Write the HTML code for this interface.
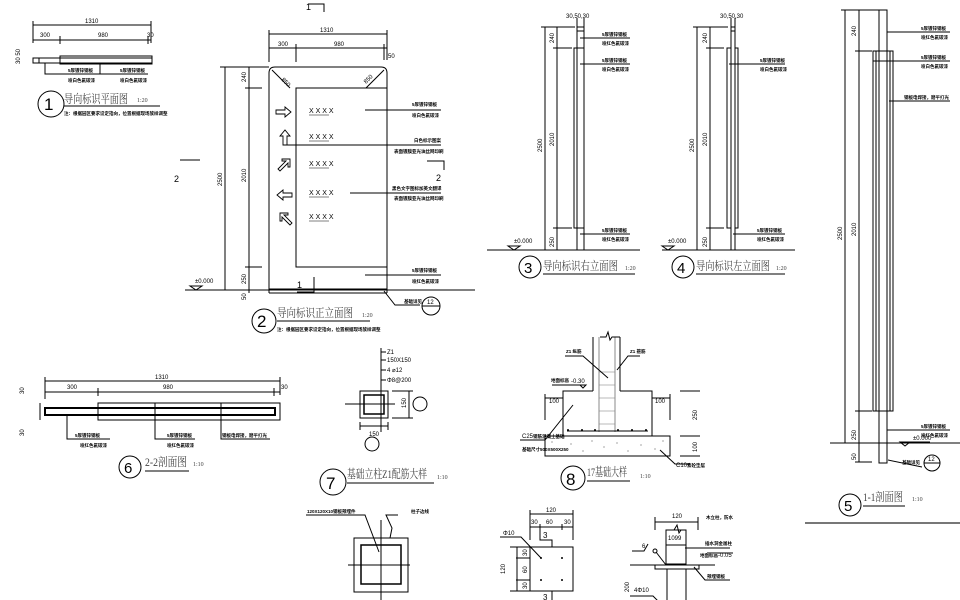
<!DOCTYPE html>
<html><head><meta charset="utf-8"><style>
html,body{margin:0;padding:0;background:#fff;}
svg{display:block;}
text{font-family:"Liberation Sans","Noto Sans CJK SC",sans-serif;fill:#000;}
.t{font-size:6px;}
.s{font-size:4.5px;font-weight:bold;}
.ti{font-size:12px;font-family:"Liberation Serif","Noto Serif CJK SC",serif;fill:#444;}
.sc{font-size:6px;font-family:"Liberation Serif",serif;fill:#444;}
</style></head><body>
<svg width="960" height="600" viewBox="0 0 960 600" xmlns="http://www.w3.org/2000/svg" stroke="#000" stroke-width="1" fill="none">
<!-- ============ Drawing 1 plan ============ -->
<g>
<line x1="33" y1="25" x2="151" y2="25"/><line x1="33" y1="21" x2="33" y2="43"/><line x1="151" y1="21" x2="151" y2="43"/>
<line x1="33" y1="40" x2="151" y2="40"/><line x1="60" y1="36" x2="60" y2="44"/><line x1="148" y1="36" x2="148" y2="44"/>
<text class="t" x="85" y="23" stroke="none">1310</text>
<text class="t" x="40" y="37" stroke="none">300</text><text class="t" x="98" y="37" stroke="none">980</text><text class="t" x="147" y="37" stroke="none">30</text>
<rect x="33" y="58" width="119" height="5"/><rect x="60" y="56" width="92" height="8"/><line x1="39" y1="58" x2="39" y2="63"/>
<text class="t" x="20" y="64" stroke="none" transform="rotate(-90 20 64)">30 50</text>
<polyline points="45,63 45,74 100,74"/><polyline points="100,64 100,74 148,74"/>
<text class="s" x="68" y="72" stroke="none">5厚镀锌钢板</text><text class="s" x="120" y="72" stroke="none">5厚镀锌钢板</text>
<text class="s" x="68" y="82" stroke="none">喷白色氟碳漆</text><text class="s" x="120" y="82" stroke="none">喷白色氟碳漆</text>
<circle cx="51" cy="104" r="13"/><text x="44" y="110" style="font-size:17px" stroke="none">1</text>
<text class="ti" x="64" y="103" stroke="none" textLength="64" lengthAdjust="spacingAndGlyphs">导向标识平面图</text><text class="sc" x="137" y="102" stroke="none">1:20</text>
<line x1="64" y1="106" x2="160" y2="106"/>
<text class="s" x="64" y="115" stroke="none">注：根据园区要求设定指向，位置根据现场放样调整</text>
</g>
<!-- ============ Drawing 2 front ============ -->
<g>
<polyline points="308,4 324,4 324,12"/><text x="306" y="10" style="font-size:9px" stroke="none">1</text>
<line x1="269" y1="34" x2="387" y2="34"/><line x1="269" y1="30" x2="269" y2="62"/><line x1="387" y1="30" x2="387" y2="60"/>
<line x1="269" y1="48" x2="387" y2="48"/><line x1="296" y1="44" x2="296" y2="62"/><line x1="384" y1="44" x2="384" y2="60"/>
<text class="t" x="320" y="32" stroke="none">1310</text><text class="t" x="278" y="46" stroke="none">300</text><text class="t" x="334" y="46" stroke="none">980</text><text class="t" x="388" y="58" stroke="none">50</text>
<path d="M269,293 L269,73 Q269,67 275,67 L381,67 Q387,67 387,73 L387,293"/>
<line x1="272" y1="70" x2="290" y2="88"/><line x1="384" y1="70" x2="366" y2="88"/>
<text class="t" x="281" y="80" stroke="none" transform="rotate(45 281 80)">850</text><text class="t" x="366" y="84" stroke="none" transform="rotate(-45 366 84)">850</text>
<rect x="296" y="88" width="91" height="179"/>
<line x1="269" y1="293" x2="387" y2="293"/><line x1="269" y1="289" x2="387" y2="289"/>
<line x1="185" y1="290" x2="475" y2="290"/>
<line x1="225" y1="67" x2="225" y2="290"/><line x1="220" y1="67" x2="269" y2="67"/>
<line x1="249" y1="67" x2="249" y2="293"/><line x1="245" y1="88" x2="262" y2="88"/><line x1="245" y1="267" x2="262" y2="267"/>
<text class="t" x="222" y="186" stroke="none" transform="rotate(-90 222 186)">2500</text>
<text class="t" x="246" y="182" stroke="none" transform="rotate(-90 246 182)">2010</text>
<text class="t" x="246" y="82" stroke="none" transform="rotate(-90 246 82)">240</text>
<text class="t" x="246" y="284" stroke="none" transform="rotate(-90 246 284)">250</text>
<text class="t" x="246" y="300" stroke="none" transform="rotate(-90 246 300)">50</text>
<polygon points="190,286 196,290 202,286" /><text class="t" x="195" y="283" stroke="none">±0.000</text>
<g stroke-width="0.9">
<path d="M276,110 h9 v-3 l6,5 l-6,5 v-3 h-9 z"/>
<path d="M283,145 v-9 h-3 l5,-6 l5,6 h-3 v9 z"/>
<path d="M278,169 l8,-8 h-4 v-2 h8 v8 h-2 v-4 l-8,8 z"/>
<path d="M292,193 h-9 v-3 l-6,5 l6,5 v-3 h9 z"/>
<path d="M290,225 l-8,-8 v4 h-2 v-8 h8 v2 h-4 l8,8 z"/>
</g>
<g stroke="none" style="font-size:7px">
<text x="309" y="113">X X X X</text><text x="309" y="139">X X X X</text><text x="309" y="166">X X X X</text><text x="309" y="195">X X X X</text><text x="309" y="219">X X X X</text>
</g>
<g stroke-width="0.5"><line x1="309" y1="115" x2="329" y2="115"/><line x1="309" y1="141" x2="329" y2="141"/><line x1="309" y1="168" x2="329" y2="168"/><line x1="309" y1="197" x2="329" y2="197"/><line x1="309" y1="221" x2="329" y2="221"/></g>
<line x1="365" y1="110" x2="441" y2="110"/><line x1="283" y1="145" x2="441" y2="145"/><line x1="350" y1="193" x2="441" y2="193"/><line x1="365" y1="275" x2="441" y2="275"/>
<g stroke="none">
<text class="s" x="412" y="106">5厚镀锌钢板</text><text class="s" x="412" y="117">喷白色氟碳漆</text>
<text class="s" x="414" y="142">白色标示图案</text><text class="s" x="394" y="153">表面镀膜亚光油丝网印刷</text>
<text class="s" x="392" y="190">黑色文字图标加英文翻译</text><text class="s" x="394" y="200">表面镀膜亚光油丝网印刷</text>
<text class="s" x="412" y="272">5厚镀锌钢板</text><text class="s" x="412" y="283">喷红色氟碳漆</text>
<text class="s" x="404" y="303">基础详见</text>
</g>
<polyline points="180,160 200,160"/><text x="174" y="182" style="font-size:9px" stroke="none">2</text>
<polyline points="427,161 444,161 444,170"/><text x="436" y="181" style="font-size:9px" stroke="none">2</text>
<polyline points="314,277 314,292 297,292"/><text x="297" y="288" style="font-size:9px" stroke="none">1</text>
<polyline points="384,291 395,305 420,305"/><circle cx="431" cy="306" r="9"/><line x1="422" y1="306" x2="440" y2="306"/>
<text x="427" y="304" style="font-size:6px" stroke="none">12</text>
<circle cx="264" cy="321" r="12"/><text x="257" y="327" style="font-size:17px" stroke="none">2</text>
<text class="ti" x="277" y="317" stroke="none" textLength="76" lengthAdjust="spacingAndGlyphs">导向标识正立面图</text><text class="sc" x="362" y="317" stroke="none">1:20</text>
<line x1="277" y1="321" x2="370" y2="321"/>
<text class="s" x="277" y="331" stroke="none">注：根据园区要求设定指向，位置根据现场放样调整</text>
</g>
<!-- ============ Drawing 3 ============ -->
<g>
<line x1="577" y1="18" x2="577" y2="250"/><line x1="584" y1="18" x2="584" y2="250"/><line x1="577" y1="27" x2="584" y2="27"/><line x1="577" y1="31" x2="584" y2="31"/>
<rect x="574" y="48" width="10" height="180"/>
<text class="t" x="566" y="18" stroke="none">30,50,30</text>
<line x1="545" y1="27" x2="545" y2="250"/><line x1="541" y1="27" x2="575" y2="27"/>
<line x1="557" y1="27" x2="557" y2="250"/><line x1="553" y1="48" x2="572" y2="48"/><line x1="553" y1="228" x2="572" y2="228"/>
<line x1="487" y1="250" x2="640" y2="250"/>
<text class="t" x="542" y="152" stroke="none" transform="rotate(-90 542 152)">2500</text>
<text class="t" x="554" y="146" stroke="none" transform="rotate(-90 554 146)">2010</text>
<text class="t" x="554" y="43" stroke="none" transform="rotate(-90 554 43)">240</text>
<text class="t" x="554" y="247" stroke="none" transform="rotate(-90 554 247)">250</text>
<polygon points="508,246 514,250 520,246"/><text class="t" x="514" y="243" stroke="none">±0.000</text>
<line x1="580" y1="38" x2="630" y2="38"/><line x1="580" y1="64" x2="630" y2="64"/><line x1="580" y1="234" x2="630" y2="234"/>
<g stroke="none"><text class="s" x="602" y="36">5厚镀锌钢板</text><text class="s" x="602" y="45">喷红色氟碳漆</text>
<text class="s" x="602" y="62">5厚镀锌钢板</text><text class="s" x="602" y="71">喷白色氟碳漆</text>
<text class="s" x="602" y="232">5厚镀锌钢板</text><text class="s" x="602" y="241">喷红色氟碳漆</text></g>
<circle cx="530" cy="267" r="11"/><text x="524" y="273" style="font-size:15px" stroke="none">3</text>
<text class="ti" x="543" y="270" stroke="none" textLength="75" lengthAdjust="spacingAndGlyphs">导向标识右立面图</text><text class="sc" x="625" y="270" stroke="none">1:20</text>
<line x1="543" y1="274" x2="635" y2="274"/>
</g>
<!-- ============ Drawing 4 ============ -->
<g>
<line x1="731" y1="18" x2="731" y2="250"/><line x1="735" y1="18" x2="735" y2="250"/><line x1="731" y1="27" x2="735" y2="27"/><line x1="731" y1="31" x2="735" y2="31"/>
<rect x="727" y="48" width="4" height="180"/><rect x="735" y="48" width="3" height="180"/>
<text class="t" x="720" y="18" stroke="none">30,50,30</text>
<line x1="697" y1="27" x2="697" y2="250"/><line x1="693" y1="27" x2="728" y2="27"/>
<line x1="710" y1="27" x2="710" y2="250"/><line x1="706" y1="48" x2="724" y2="48"/><line x1="706" y1="228" x2="724" y2="228"/>
<line x1="662" y1="250" x2="795" y2="250"/>
<text class="t" x="694" y="152" stroke="none" transform="rotate(-90 694 152)">2500</text>
<text class="t" x="707" y="146" stroke="none" transform="rotate(-90 707 146)">2010</text>
<text class="t" x="707" y="43" stroke="none" transform="rotate(-90 707 43)">240</text>
<text class="t" x="707" y="247" stroke="none" transform="rotate(-90 707 247)">250</text>
<polygon points="662,246 668,250 674,246"/><text class="t" x="668" y="243" stroke="none">±0.000</text>
<line x1="729" y1="64" x2="785" y2="64"/><line x1="733" y1="234" x2="785" y2="234"/>
<g stroke="none"><text class="s" x="760" y="62">5厚镀锌钢板</text><text class="s" x="760" y="71">喷白色氟碳漆</text>
<text class="s" x="757" y="232">5厚镀锌钢板</text><text class="s" x="757" y="241">喷红色氟碳漆</text></g>
<circle cx="683" cy="267" r="11"/><text x="677" y="273" style="font-size:15px" stroke="none">4</text>
<text class="ti" x="696" y="270" stroke="none" textLength="74" lengthAdjust="spacingAndGlyphs">导向标识左立面图</text><text class="sc" x="776" y="270" stroke="none">1:20</text>
<line x1="696" y1="274" x2="785" y2="274"/>
</g>
<!-- ============ Drawing 5 ============ -->
<g>
<rect x="879" y="10" width="8" height="453"/>
<rect x="873" y="51" width="20" height="360"/><line x1="876" y1="51" x2="876" y2="411"/><line x1="890" y1="51" x2="890" y2="411"/>
<line x1="845" y1="10" x2="845" y2="443"/><line x1="841" y1="10" x2="880" y2="10"/>
<line x1="859" y1="10" x2="859" y2="462"/><line x1="855" y1="51" x2="872" y2="51"/><line x1="855" y1="411" x2="872" y2="411"/><line x1="855" y1="462" x2="872" y2="462"/>
<line x1="830" y1="443" x2="960" y2="443"/>
<text class="t" x="842" y="240" stroke="none" transform="rotate(-90 842 240)">2500</text>
<text class="t" x="856" y="236" stroke="none" transform="rotate(-90 856 236)">2010</text>
<text class="t" x="856" y="36" stroke="none" transform="rotate(-90 856 36)">240</text>
<text class="t" x="856" y="440" stroke="none" transform="rotate(-90 856 440)">250</text>
<text class="t" x="856" y="460" stroke="none" transform="rotate(-90 856 460)">50</text>
<line x1="887" y1="32" x2="950" y2="32"/><line x1="873" y1="61" x2="950" y2="61"/><line x1="889" y1="101" x2="950" y2="101"/><line x1="887" y1="430" x2="950" y2="430"/>
<g stroke="none"><text class="s" x="921" y="30">5厚镀锌钢板</text><text class="s" x="921" y="39">喷红色氟碳漆</text>
<text class="s" x="921" y="59">5厚镀锌钢板</text><text class="s" x="921" y="68">喷白色氟碳漆</text>
<text class="s" x="904" y="99">钢板电焊接，磨平打光</text>
<text class="s" x="921" y="428">5厚镀锌钢板</text><text class="s" x="921" y="437">喷红色氟碳漆</text>
<text class="s" x="902" y="464">基础详见</text><text class="t" x="913" y="440">±0.000</text></g>
<polygon points="900,442 905,446 910,442"/><line x1="900" y1="442" x2="930" y2="442"/>
<line x1="888" y1="460" x2="922" y2="467"/>
<circle cx="932" cy="463" r="8"/><line x1="924" y1="463" x2="940" y2="463"/><text x="928" y="461" style="font-size:6px" stroke="none">12</text>
<circle cx="850" cy="505" r="11"/><text x="844" y="511" style="font-size:15px" stroke="none">5</text>
<text class="ti" x="863" y="501" stroke="none" textLength="40" lengthAdjust="spacingAndGlyphs">1-1剖面图</text><text class="sc" x="912" y="501" stroke="none">1:10</text>
<line x1="863" y1="506" x2="905" y2="506"/>
<line x1="805" y1="523" x2="960" y2="523" stroke="#777" stroke-width="2"/>
</g>
<!-- ============ Drawing 6 ============ -->
<g>
<line x1="45" y1="381" x2="280" y2="381"/><line x1="45" y1="377" x2="45" y2="399"/><line x1="280" y1="377" x2="280" y2="395"/>
<line x1="45" y1="392" x2="280" y2="392"/><line x1="98" y1="388" x2="98" y2="396"/><line x1="274" y1="388" x2="274" y2="396"/>
<text class="t" x="155" y="379" stroke="none">1310</text><text class="t" x="67" y="389" stroke="none">300</text><text class="t" x="163" y="389" stroke="none">980</text><text class="t" x="281" y="389" stroke="none">30</text>
<text class="t" x="24" y="394" stroke="none" transform="rotate(-90 24 394)">30</text>
<text class="t" x="24" y="436" stroke="none" transform="rotate(-90 24 436)">30</text>
<rect x="98" y="403" width="182" height="17"/>
<rect x="45" y="408" width="230" height="7" stroke-width="2"/>
<line x1="40" y1="403" x2="40" y2="420"/>
<polyline points="67,415 67,439 110,439"/><polyline points="155,403 155,439 195,439"/><polyline points="221,403 221,439 270,439"/>
<g stroke="none"><text class="s" x="75" y="437">5厚镀锌钢板</text><text class="s" x="80" y="447">喷红色氟碳漆</text>
<text class="s" x="167" y="437">5厚镀锌钢板</text><text class="s" x="167" y="447">喷红色氟碳漆</text>
<text class="s" x="222" y="437">钢板电焊接，磨平打光</text></g>
<circle cx="130" cy="467" r="11"/><text x="124" y="473" style="font-size:15px" stroke="none">6</text>
<text class="ti" x="145" y="466" stroke="none" textLength="42" lengthAdjust="spacingAndGlyphs">2-2剖面图</text><text class="sc" x="193" y="466" stroke="none">1:10</text>
<line x1="145" y1="471" x2="189" y2="471"/>
</g>
<!-- ============ Drawing 7 ============ -->
<g>
<line x1="381" y1="348" x2="381" y2="432"/><line x1="345" y1="404" x2="395" y2="404"/>
<rect x="360" y="391" width="28" height="27"/><rect x="364" y="395" width="20" height="19" stroke-width="1.5"/>
<line x1="381" y1="352" x2="386" y2="352"/><line x1="381" y1="360" x2="386" y2="360"/><line x1="381" y1="370" x2="386" y2="370"/><line x1="381" y1="380" x2="386" y2="380"/>
<g stroke="none" style="font-size:6px"><text x="387" y="354">Z1</text><text x="387" y="362">150X150</text><text x="387" y="372">4 ⌀12</text><text x="387" y="382">Φ8@200</text></g>
<line x1="392" y1="391" x2="413" y2="391"/><line x1="392" y1="418" x2="413" y2="418"/><line x1="409" y1="391" x2="409" y2="418"/>
<text class="t" x="406" y="408" stroke="none" transform="rotate(-90 406 408)">150</text>
<circle cx="420" cy="404" r="7"/>
<line x1="360" y1="426" x2="388" y2="426"/><line x1="360" y1="422" x2="360" y2="430"/><line x1="388" y1="422" x2="388" y2="430"/>
<text class="t" x="369" y="436" stroke="none">150</text><circle cx="372" cy="444" r="7"/>
<circle cx="333" cy="482" r="13"/><text x="326" y="489" style="font-size:17px" stroke="none">7</text>
<text class="ti" x="347" y="478" stroke="none" textLength="80" lengthAdjust="spacingAndGlyphs">基础立柱Z1配筋大样</text><text class="sc" x="437" y="479" stroke="none">1:10</text>
<line x1="347" y1="483" x2="434" y2="483"/>
</g>
<!-- ============ Drawing 8 ============ -->
<g>
<line x1="593" y1="337" x2="593" y2="391"/><line x1="620" y1="337" x2="620" y2="391"/>
<line x1="599" y1="337" x2="599" y2="432" stroke="#888"/><line x1="615" y1="337" x2="615" y2="432" stroke="#888"/>
<g stroke="#888" stroke-width="0.6"><line x1="599" y1="372" x2="615" y2="372"/><line x1="599" y1="385" x2="615" y2="385"/><line x1="599" y1="398" x2="615" y2="398"/><line x1="599" y1="411" x2="615" y2="411"/><line x1="599" y1="424" x2="615" y2="424"/></g>
<polyline points="600,337 606,337 608,332 610,340 612,337 620,337"/>
<polyline points="593,391 563,391 563,436 652,436 652,391 620,391"/>
<line x1="567" y1="431" x2="648" y2="431"/>
<g fill="#000" stroke="none"><circle cx="568" cy="430" r="1"/><circle cx="582" cy="430" r="1"/><circle cx="595" cy="430" r="1"/><circle cx="618" cy="430" r="1"/><circle cx="632" cy="430" r="1"/><circle cx="646" cy="430" r="1"/></g>
<rect x="545" y="436" width="125" height="20"/>
<g fill="#000" stroke="none" opacity="0.6"><circle cx="552" cy="442" r="0.6"/><circle cx="560" cy="449" r="0.6"/><circle cx="571" cy="444" r="0.6"/><circle cx="583" cy="451" r="0.6"/><circle cx="592" cy="441" r="0.6"/><circle cx="604" cy="447" r="0.6"/><circle cx="617" cy="443" r="0.6"/><circle cx="628" cy="451" r="0.6"/><circle cx="641" cy="445" r="0.6"/><circle cx="655" cy="449" r="0.6"/><circle cx="663" cy="441" r="0.6"/></g>
<line x1="545" y1="398" x2="563" y2="398"/><line x1="545" y1="394" x2="545" y2="420"/><text class="t" x="549" y="403" stroke="none">100</text>
<line x1="652" y1="398" x2="670" y2="398"/><line x1="670" y1="394" x2="670" y2="420"/><text class="t" x="655" y="403" stroke="none">100</text>
<line x1="680" y1="391" x2="700" y2="391"/><line x1="680" y1="436" x2="700" y2="436"/><line x1="680" y1="456" x2="700" y2="456"/>
<text class="t" x="697" y="420" stroke="none" transform="rotate(-90 697 420)">250</text>
<text class="t" x="697" y="452" stroke="none" transform="rotate(-90 697 452)">100</text>
<polyline points="565,356 583,356 608,378"/><polyline points="640,356 628,356 617,370"/>
<polyline points="552,385 580,385"/><polygon points="580,385 583,388 586,385"/>
<polyline points="520,440 545,440 573,405"/><polyline points="660,450 675,464 690,464"/>
<g stroke="none"><text class="s" x="566" y="353">Z1 纵筋</text><text class="s" x="630" y="353">Z1 箍筋</text>
<text class="s" x="551" y="382">地面标高</text><text class="t" x="571" y="383">-0.30</text>
<text class="t" x="522" y="438">C25</text><text class="s" x="533" y="438">钢筋混凝土基础</text>
<text class="s" x="522" y="451">基础尺寸500X500X250</text>
<text class="t" x="676" y="467">C10</text><text class="s" x="687" y="467">素砼垫层</text></g>
<circle cx="573" cy="478" r="12"/><text x="566" y="485" style="font-size:17px" stroke="none">8</text>
<text class="ti" x="587" y="476" stroke="none" textLength="40" lengthAdjust="spacingAndGlyphs">17基础大样</text><text class="sc" x="640" y="478" stroke="none">1:10</text>
<line x1="587" y1="481" x2="630" y2="481"/>
</g>
<!-- ============ bottom left detail ============ -->
<g>
<line x1="381" y1="520" x2="381" y2="600"/><line x1="348" y1="565" x2="410" y2="565"/>
<rect x="354" y="538" width="54" height="54"/><rect x="361" y="545" width="40" height="39" stroke-width="1.5"/>
<polyline points="306,515 365,515 379,552"/><polyline points="398,515 386,515 392,528 390,538"/>
<g stroke="none"><text class="s" x="307" y="513">120X120X10钢板预埋件</text><text class="s" x="411" y="513">柱子边线</text></g>
</g>
<!-- ============ bottom middle plate ============ -->
<g>
<line x1="530" y1="514" x2="573" y2="514"/><line x1="530" y1="510" x2="530" y2="540"/><line x1="573" y1="510" x2="573" y2="540"/>
<line x1="530" y1="527" x2="573" y2="527"/><line x1="540" y1="524" x2="540" y2="530"/><line x1="562" y1="524" x2="562" y2="530"/>
<g stroke="none"><text class="t" x="546" y="512">120</text><text class="t" x="531" y="524">30</text><text class="t" x="546" y="524">60</text><text class="t" x="564" y="524">30</text></g>
<polyline points="540,527 540,540 552,540 552,547"/><text x="543" y="538" style="font-size:8px" stroke="none">3</text>
<rect x="530" y="547" width="43" height="44"/>
<g fill="#000" stroke="none"><circle cx="541" cy="558" r="1"/><circle cx="562" cy="558" r="1"/><circle cx="541" cy="580" r="1"/><circle cx="562" cy="580" r="1"/></g>
<polyline points="500,537 521,537 541,558"/><text class="t" x="503" y="535" stroke="none">Φ10</text>
<line x1="510" y1="547" x2="530" y2="547"/><line x1="510" y1="591" x2="530" y2="591"/><line x1="517" y1="547" x2="517" y2="591"/><line x1="516" y1="558" x2="530" y2="558"/><line x1="516" y1="580" x2="530" y2="580"/>
<g stroke="none"><text class="t" x="505" y="574" transform="rotate(-90 505 574)">120</text><text class="t" x="527" y="556" transform="rotate(-90 527 556)">30</text><text class="t" x="527" y="573" transform="rotate(-90 527 573)">60</text><text class="t" x="527" y="589" transform="rotate(-90 527 589)">30</text></g>
<line x1="552" y1="591" x2="552" y2="600"/><text x="543" y="600" style="font-size:8px" stroke="none">3</text>
</g>
<!-- ============ bottom right detail ============ -->
<g>
<line x1="655" y1="522" x2="698" y2="522"/><line x1="655" y1="517" x2="655" y2="530"/><line x1="698" y1="517" x2="698" y2="530"/>
<text class="t" x="672" y="518" stroke="none">120</text>
<rect x="666" y="530" width="20" height="34"/><line x1="666" y1="545" x2="686" y2="545"/>
<polyline points="666,530 674,530 677,525 679,533 681,530 686,530"/>
<text class="t" x="668" y="540" stroke="none">1099</text>
<line x1="630" y1="565" x2="715" y2="565"/><rect x="655" y="565" width="44" height="4"/>
<line x1="667" y1="569" x2="667" y2="600"/><line x1="686" y1="569" x2="686" y2="600"/>
<polyline points="632,551 644,551 648,544"/><text class="t" x="642" y="548" stroke="none">6</text>
<circle cx="655" cy="551" r="2"/><line x1="656" y1="552" x2="666" y2="565"/>
<line x1="685" y1="548" x2="730" y2="548"/><line x1="707" y1="553" x2="733" y2="553"/>
<polyline points="694,567 705,580 730,580"/>
<polyline points="630,596 653,596 662,605"/>
<g stroke="none"><text class="s" x="706" y="519">木立柱，防水</text><text class="s" x="705" y="545">插水洞金属柱</text>
<text class="s" x="700" y="557">地面标高</text><text class="t" x="718" y="557">-0.05</text>
<text class="s" x="707" y="578">预埋钢板</text><text class="t" x="634" y="592">4Φ10</text>
<text class="t" x="629" y="592" transform="rotate(-90 629 592)">200</text></g>
</g>
</svg>
</body></html>
